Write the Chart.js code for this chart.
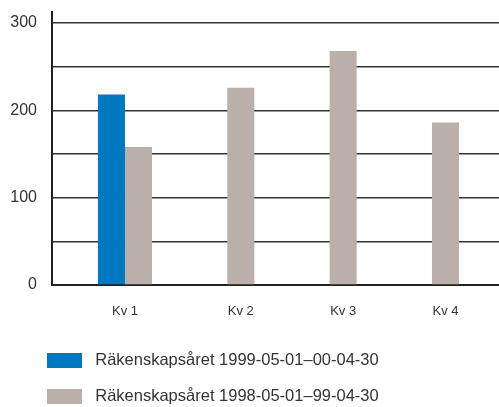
<!DOCTYPE html>
<html>
<head>
<meta charset="utf-8">
<script src="https://cdn.jsdelivr.net/npm/chart.js@4/dist/chart.umd.min.js"></script>
<style>
  html, body { margin: 0; padding: 0; background: #ffffff; }
  #wrap { width: 499px; height: 407px; }
</style>
</head>
<body>
<div id="wrap"><canvas id="chart"></canvas></div>
<script>
// Quarterly figures per fiscal year
const categories = ['Kv 1', 'Kv 2', 'Kv 3', 'Kv 4'];
const fiscal1999 = [218, null, null, null];
const fiscal1998 = [158, 226, 268, 186];
const seriesNames = [
  'Räkenskapsåret 1999-05-01–00-04-30',
  'Räkenskapsåret 1998-05-01–99-04-30'
];
const yTickLabels = [0, 100, 200, 300];

const series = [fiscal1999, fiscal1998];
const colours = ['#0077c1', '#bab0a9'];
const groupShare = 0.528;           // part of each quarter slot taken by its bars
const TEXT = '#333333';
const FONT = '"Liberation Sans", Arial, sans-serif';

// Centre each quarter label under the bars that are actually drawn there
function labelPosition(i) {
  const n = series.length;
  const centres = [];
  series.forEach((s, k) => {
    if (s[i] !== null && s[i] !== undefined) {
      centres.push(i - groupShare / 2 + (k + 0.5) * groupShare / n);
    }
  });
  if (!centres.length) return i;
  return centres.reduce((a, b) => a + b, 0) / centres.length;
}

const toPoints = arr => arr.map((v, i) => ({ x: i, y: v }));

// Flat legend swatch, drawn narrower than its legend slot to leave a gap before the text
function swatch(colour) {
  const c = document.createElement('canvas');
  c.width = 35;
  c.height = 15;
  const g = c.getContext('2d');
  g.fillStyle = colour;
  g.fillRect(0, 0, c.width, c.height);
  return c;
}

// Indent the legend block so it lines up under the plot
const legendIndent = {
  id: 'legendIndent',
  afterLayout(chart, args, opts) {
    const lg = chart.legend;
    if (lg) { lg.left += opts.indent; lg.right += opts.indent; }
  }
};

new Chart(document.getElementById('chart'), {
  type: 'bar',
  plugins: [legendIndent],
  data: {
    datasets: series.map((s, k) => ({
      label: seriesNames[k],
      data: toPoints(s),
      backgroundColor: colours[k],
      borderWidth: 0,
      pointStyle: swatch(colours[k])
    }))
  },
  options: {
    responsive: true,
    maintainAspectRatio: false,
    animation: false,
    categoryPercentage: groupShare,
    barPercentage: 1,
    layout: { padding: { top: 12, left: 0, right: 0, bottom: -8 } },
    plugins: {
      tooltip: { enabled: false },
      legendIndent: { indent: 22 },
      legend: {
        position: 'bottom',
        align: 'start',
        labels: {
          usePointStyle: true,
          pointStyleWidth: 45,
          boxHeight: 15,
          padding: 20,
          color: TEXT,
          font: { family: FONT, size: 16.5 }
        }
      }
    },
    scales: {
      x: {
        type: 'linear',
        offset: false,
        min: -0.713,
        max: 3.655,
        grid: { display: false, drawTicks: false },
        border: { display: true, color: '#222222', width: 2 },
        afterBuildTicks: scale => {
          scale.ticks = categories.map((c, i) => ({ value: labelPosition(i) }));
        },
        afterFit: scale => {
          scale.height = 47;
          scale.paddingLeft = 0;
          scale.paddingRight = 0;
        },
        ticks: {
          autoSkip: false,
          maxRotation: 0,
          padding: 19,
          color: TEXT,
          font: { family: FONT, size: 13 },
          callback: (value, index) => categories[index]
        }
      },
      y: {
        min: 0,
        max: 312.6,
        afterFit: scale => {
          scale.width = 52;
          scale.paddingTop = 0;
          scale.paddingBottom = 0;
        },
        grid: { color: '#333333', lineWidth: 1.4, drawTicks: false },
        border: { display: true, color: '#222222', width: 2 },
        ticks: {
          stepSize: 50,
          includeBounds: false,
          padding: 15,
          color: TEXT,
          font: { family: FONT, size: 16 },
          callback: v => (yTickLabels.includes(v) ? String(v) : '')
        }
      }
    }
  }
});
</script>
</body>
</html>
